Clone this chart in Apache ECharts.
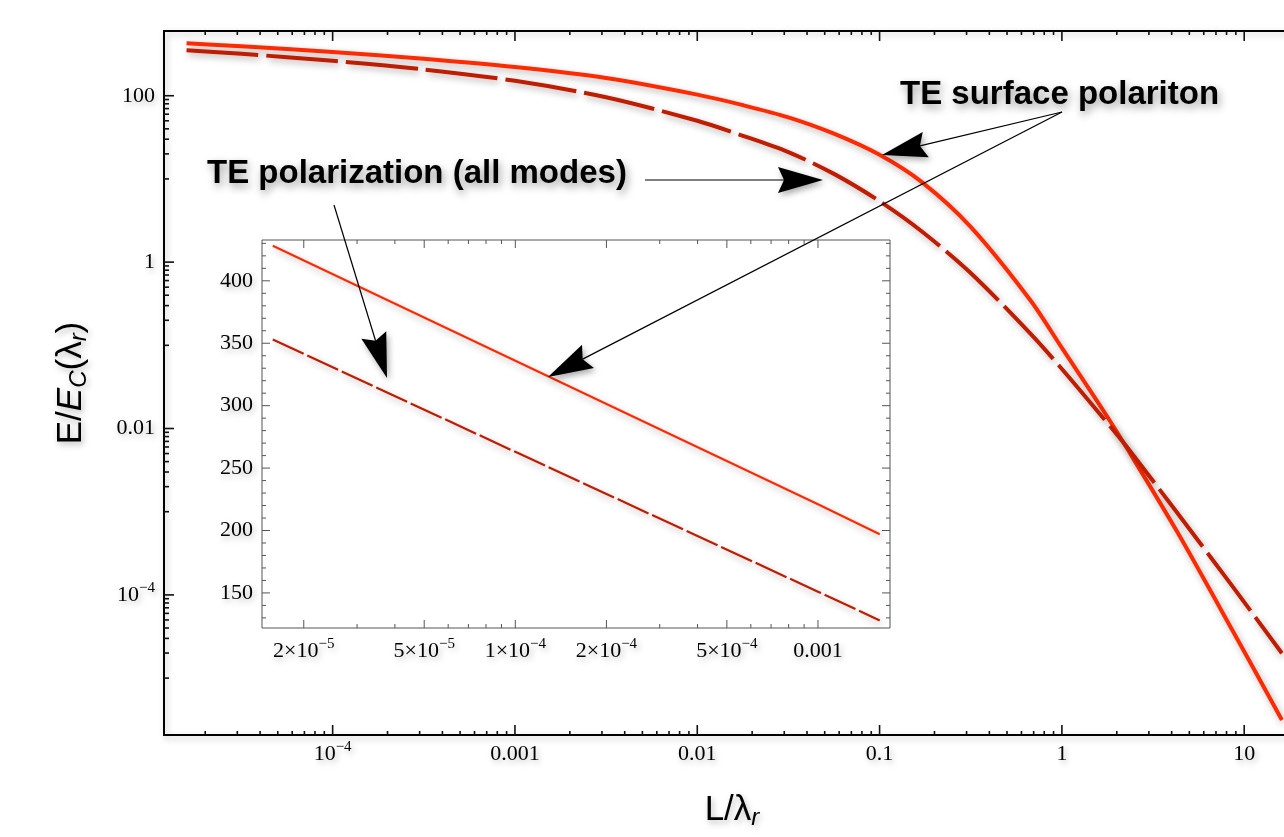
<!DOCTYPE html>
<html><head><meta charset="utf-8">
<script src="https://cdn.jsdelivr.net/npm/echarts@6.0.0/dist/echarts.min.js"></script>
<style>html,body{margin:0;padding:0;overflow:hidden;background:#fff;width:1284px;height:837px}#c{width:1320px;height:837px}</style>
</head><body><div id="c"></div><script>
// ---------------- data ----------------
const lengthRatio = [1.58e-5, 3.16e-5, 1e-4, 3.16e-4, 1e-3, 3.16e-3, 0.01, 0.0178, 0.0316, 0.0562, 0.1, 0.17, 0.316, 0.67, 1.0, 1.68, 2.28, 4.29, 8.69, 16.1];
const surfacePolariton = [428, 393, 336, 278, 221, 163, 103, 77, 55, 35, 19.5, 9.2, 2.65, 0.35, 0.093, 0.0167, 0.00574, 5.73e-4, 3.63e-5, 3.13e-6];
const allModes = [353, 319, 263, 207, 151, 96, 50, 33, 21, 11.5, 5.4, 2.35, 0.74, 0.139, 0.052, 0.0135, 0.00594, 9.7e-4, 1.24e-4, 1.99e-5];

const insetLengthRatio = [1.58e-5, 1e-4, 1e-3, 1.6e-3];
const insetSurface = [428, 336, 221, 197];
const insetAllModes = [353, 263, 151, 128];

const insetXTickValues = [2e-5, 5e-5, 1e-4, 2e-4, 5e-4, 1e-3];
const insetXTickLabels = ['2×10^−5', '5×10^−5', '1×10^−4', '2×10^−4', '5×10^−4', '0.001'];
const xName = 'L/λ_r';
const yName = 'E/E_C(λ_r)';
const labelSurface = 'TE surface polariton';
const labelAllModes = 'TE polarization (all modes)';

// ---------------- axis ranges ----------------
const X_MIN = Math.pow(10, -4.925), X_MAX = Math.pow(10, 1.306);
const Y_MIN = Math.pow(10, -5.684), Y_MAX = Math.pow(10, 2.778);
const IX_MIN = Math.pow(10, -4.837), IX_MAX = Math.pow(10, -2.762);
const IY_MIN = 121.9, IY_MAX = 432.7;

const SERIF = '"Liberation Serif", "DejaVu Serif", serif';
const SANS = '"Liberation Sans", Arial, sans-serif';
const SOLID = '#ff2a00', DASHED = '#bf1c00';
const FS = 22;

const richNum = {
  b: {fontFamily: SERIF, fontSize: FS, color: '#000', lineHeight: 28},
  s: {fontFamily: SERIF, fontSize: 15, color: '#000', lineHeight: 16, verticalAlign: 'top'}
};
function toRich(t) {
  const i = t.indexOf('^');
  if (i < 0) return '{b|' + t + '}';
  return '{b|' + t.slice(0, i) + '}{s|' + t.slice(i + 1) + '}';
}
function powLabel(v, evenOnly) {
  const lg = Math.log10(v), e = Math.round(lg);
  if (Math.abs(lg - e) > 1e-6) return '';
  if (evenOnly && e % 2 !== 0) return '';
  if (e <= -4) return toRich('10^−' + (-e));
  return '{b|' + (e >= 0 ? String(Math.pow(10, e)) : Math.pow(10, e).toFixed(-e)) + '}';
}
function nameRich(t) {
  return t.replace(/E\/E_C/, '{n|E/}{i|E}{c|C}').replace(/λ_r/, '{n|λ}{c|r}')
          .replace(/^L\//, '{n|L/}').replace(/\(/, '{n|(}').replace(/\)$/, '{n|)}');
}
const nameStyle = {
  fontFamily: SANS, fontSize: 35, color: '#000',
  rich: {
    n: {fontFamily: SANS, fontSize: 35, color: '#000', lineHeight: 40},
    i: {fontFamily: SANS, fontSize: 35, fontStyle: 'italic', color: '#000', lineHeight: 40},
    c: {fontFamily: SANS, fontSize: 24, fontStyle: 'italic', color: '#000', lineHeight: 26, verticalAlign: 'bottom'}
  }
};
const shadowTxt = {textShadowColor: 'rgba(0,0,0,0.28)', textShadowBlur: 6, textShadowOffsetX: 2, textShadowOffsetY: 3};

// ---------------- tick lists ----------------
const mainTicks = [];
for (let e = -5; e <= 1; e++) for (let j = 1; j <= 9; j++) {
  const v = j * Math.pow(10, e);
  if (v > X_MIN && v < X_MAX) mainTicks.push([v, 1, 0, j === 1 ? 10 : 4]);
}
for (let e = -6; e <= 2; e++) {
  if (e % 2 === 0) { const v = Math.pow(10, e); if (v > Y_MIN && v < Y_MAX) mainTicks.push([1e-3, v, 1, 10]); }
  else for (let j = 1; j <= 9; j++) { const v = j * Math.pow(10, e); if (v > Y_MIN && v < Y_MAX) mainTicks.push([1e-3, v, 1, 5]); }
}
const insetTicks = [];
for (let e = -5; e <= -3; e++) for (let j = 1; j <= 9; j++) {
  const v = j * Math.pow(10, e);
  if (v > IX_MIN && v < IX_MAX) insetTicks.push([v, 200, 0, (j === 1 || j === 2 || j === 5) ? 8 : 4, -1]);
}
for (let v = 130; v <= 430; v += 10) insetTicks.push([1e-4, v, 1, v % 50 === 0 ? 8 : 4, -1]);
insetXTickValues.forEach((v, i) => insetTicks.push([v, 200, 2, 0, i]));

function makeTickRender(color, width) {
  return function (params, api) {
    const cs = params.coordSys;
    const kind = api.value(2), len = api.value(3);
    const p = api.coord([api.value(0), api.value(1)]);
    const st = {stroke: color, lineWidth: width};
    if (kind === 0) {
      return {type: 'group', children: [
        {type: 'line', shape: {x1: p[0], y1: cs.y + cs.height, x2: p[0], y2: cs.y + cs.height - len}, style: st},
        {type: 'line', shape: {x1: p[0], y1: cs.y, x2: p[0], y2: cs.y + len}, style: st}
      ]};
    }
    if (kind === 1) {
      return {type: 'group', children: [
        {type: 'line', shape: {x1: cs.x, y1: p[1], x2: cs.x + len, y2: p[1]}, style: st},
        {type: 'line', shape: {x1: cs.x + cs.width, y1: p[1], x2: cs.x + cs.width - len, y2: p[1]}, style: st}
      ]};
    }
    const idx = api.value(4);
    return {type: 'text', x: p[0], y: cs.y + cs.height + 9,
      style: {text: toRich(insetXTickLabels[idx]), rich: richNum, font: FS + 'px ' + SERIF, align: 'center', verticalAlign: 'top',
        textAlign: 'center', textVerticalAlign: 'top', fill: '#000',
        textShadowColor: 'rgba(0,0,0,0.28)', textShadowBlur: 6, textShadowOffsetX: 2, textShadowOffsetY: 3}};
  };
}

// ---------------- annotations ----------------
function arrow(x1, y1, x2, y2) {
  const dx = x1 - x2, dy = y1 - y2, d = Math.hypot(dx, dy), ux = dx / d, uy = dy / d;
  const Lh = 45, W = 13, N = 6;
  const bx = x2 + ux * Lh, by = y2 + uy * Lh, nx = -uy, ny = ux;
  const notch = [x2 + ux * (Lh - N), y2 + uy * (Lh - N)];
  const sh = {shadowBlur: 6, shadowColor: 'rgba(0,0,0,0.35)', shadowOffsetX: 2, shadowOffsetY: 3};
  return [
    {type: 'line', z: 100, shape: {x1: x1, y1: y1, x2: notch[0], y2: notch[1]}, style: {stroke: '#000', lineWidth: 1.2}},
    {type: 'polygon', z: 101, shape: {points: [[x2, y2], [bx + nx * W, by + ny * W], notch, [bx - nx * W, by - ny * W]]}, style: Object.assign({fill: '#000'}, sh)}
  ];
}
const annText = (x, y, t) => ({type: 'text', z: 100, x: x, y: y,
  style: {text: t, font: 'bold 33px ' + SANS, fill: '#000', verticalAlign: 'middle', textVerticalAlign: 'middle',
    shadowBlur: 8, shadowColor: 'rgba(0,0,0,0.4)', shadowOffsetX: 2, shadowOffsetY: 4,
    textShadowBlur: 8, textShadowColor: 'rgba(0,0,0,0.4)', textShadowOffsetX: 2, textShadowOffsetY: 4}});

const graphics = [annText(900, 95, labelSurface), annText(207, 174, labelAllModes)]
  .concat(arrow(1062, 112, 882, 155))
  .concat(arrow(1062, 112, 548, 377))
  .concat(arrow(645, 180, 823, 180))
  .concat(arrow(334, 205, 387, 378));

const lineShadow = {shadowColor: 'rgba(0,0,0,0.3)', shadowBlur: 7, shadowOffsetX: 2, shadowOffsetY: 3};

const chart = echarts.init(document.getElementById('c'), null, {renderer: 'canvas'});
chart.setOption({
  animation: false,
  backgroundColor: '#fff',
  grid: [
    {left: 164, top: 31, width: 1136, height: 704, show: true, borderColor: '#000', borderWidth: 2,
     backgroundColor: 'transparent', containLabel: false, outerBoundsMode: 'none',
     shadowColor: 'rgba(0,0,0,0.25)', shadowBlur: 6, shadowOffsetX: 2, shadowOffsetY: 3},
    {left: 262, top: 240, width: 628, height: 388, show: true, borderColor: '#555', borderWidth: 1,
     backgroundColor: '#fff', containLabel: false, outerBoundsMode: 'none', z: 3}
  ],
  xAxis: [
    {gridIndex: 0, type: 'log', min: X_MIN, max: X_MAX, position: 'bottom',
     axisLine: {show: false}, axisTick: {show: false}, splitLine: {show: false}, minorTick: {show: false},
     axisLabel: Object.assign({formatter: v => powLabel(v, false), fontFamily: SERIF, fontSize: FS, color: '#000', rich: richNum, margin: 5, showMinLabel: false, showMaxLabel: false, hideOverlap: false}, shadowTxt),
     name: nameRich(xName), nameLocation: 'middle', nameGap: 55, nameTextStyle: Object.assign({}, nameStyle, shadowTxt)},
    {gridIndex: 1, type: 'log', min: IX_MIN, max: IX_MAX, position: 'bottom',
     axisLine: {show: false}, axisTick: {show: false}, splitLine: {show: false}, axisLabel: {show: false}}
  ],
  yAxis: [
    {gridIndex: 0, type: 'log', min: Y_MIN, max: Y_MAX, position: 'left',
     axisLine: {show: false}, axisTick: {show: false}, splitLine: {show: false}, minorTick: {show: false},
     axisLabel: Object.assign({formatter: v => powLabel(v, true), fontFamily: SERIF, fontSize: FS, color: '#000', rich: richNum, margin: 9, showMinLabel: false, showMaxLabel: false, hideOverlap: false}, shadowTxt),
     name: nameRich(yName), nameLocation: 'middle', nameRotate: 90, nameGap: 73, nameTextStyle: Object.assign({}, nameStyle, shadowTxt)},
    {gridIndex: 1, type: 'value', min: IY_MIN, max: IY_MAX, splitNumber: 6, position: 'left',
     axisLine: {show: false}, axisTick: {show: false}, splitLine: {show: false},
     axisLabel: Object.assign({fontFamily: SERIF, fontSize: FS, color: '#000', margin: 9, showMinLabel: false, showMaxLabel: false,
       formatter: v => (v % 50 === 0 ? String(v) : '')}, shadowTxt)}
  ],
  series: [
    {name: labelSurface, type: 'line', xAxisIndex: 0, yAxisIndex: 0, showSymbol: false, smooth: 0.3, z: 4,
     data: lengthRatio.map((x, i) => [x, surfacePolariton[i]]),
     lineStyle: Object.assign({color: SOLID, width: 4}, lineShadow)},
    {name: labelAllModes, type: 'line', xAxisIndex: 0, yAxisIndex: 0, showSymbol: false, smooth: 0.3, z: 4,
     data: lengthRatio.map((x, i) => [x, allModes[i]]),
     lineStyle: Object.assign({color: DASHED, width: 4, type: [72, 8]}, lineShadow)},
    {type: 'line', xAxisIndex: 1, yAxisIndex: 1, showSymbol: false, z: 6,
     data: insetLengthRatio.map((x, i) => [x, insetSurface[i]]),
     lineStyle: Object.assign({color: SOLID, width: 2.2}, lineShadow)},
    {type: 'line', xAxisIndex: 1, yAxisIndex: 1, showSymbol: false, z: 6,
     data: insetLengthRatio.map((x, i) => [x, insetAllModes[i]]),
     lineStyle: Object.assign({color: DASHED, width: 2.2, type: [34, 4]}, lineShadow)},
    {type: 'custom', xAxisIndex: 0, yAxisIndex: 0, silent: true, clip: false, z: 5,
     dimensions: ['x', 'y', 'kind', 'len'], encode: {x: 0, y: 1},
     renderItem: makeTickRender('#111', 1.6), data: mainTicks},
    {type: 'custom', xAxisIndex: 1, yAxisIndex: 1, silent: true, clip: false, z: 7,
     dimensions: ['x', 'y', 'kind', 'len', 'idx'], encode: {x: 0, y: 1},
     renderItem: makeTickRender('#555', 1), data: insetTicks}
  ],
  graphic: graphics
});
</script></body></html>
